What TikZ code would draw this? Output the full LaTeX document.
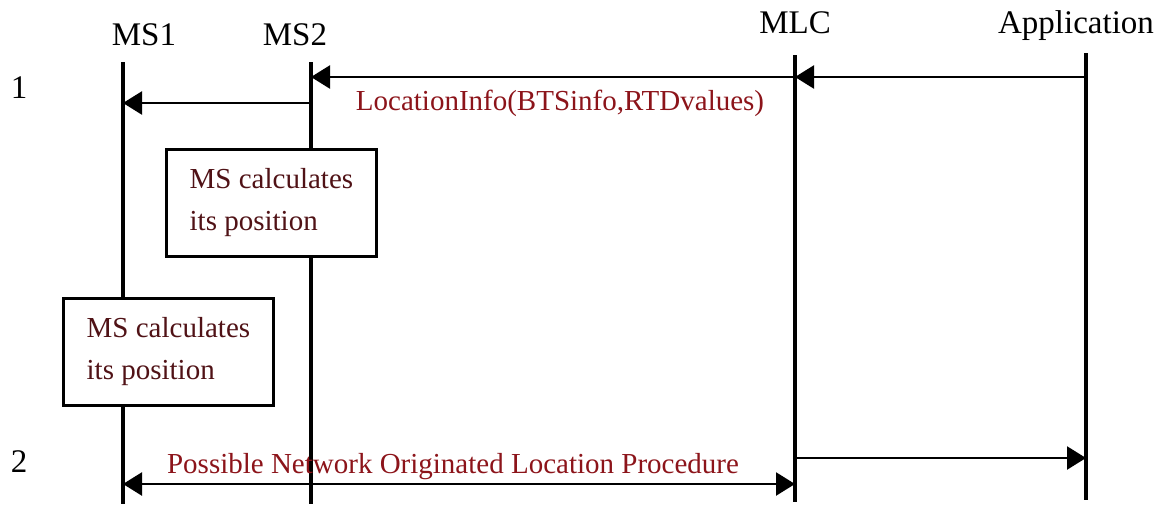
\documentclass[tikz,border=0pt]{standalone}
\usepackage{fontspec}
\setmainfont{Liberation Serif}
\usetikzlibrary{arrows.meta, positioning}

\definecolor{msgred}{RGB}{140,20,26}
\definecolor{boxred}{RGB}{80,18,22}

\tikzset{
  lifeline/.style={line width=1.6pt},
  msg/.style={line width=1.2pt, -{Triangle[length=9.5pt,width=11.5pt]}},
  twoway/.style={line width=1.2pt, {Triangle[length=9.5pt,width=11.5pt]}-{Triangle[length=9.5pt,width=11.5pt]}},
  entity/.style={anchor=base, inner sep=0pt, font=\fontsize{16.5}{20}\selectfont},
  msglabel/.style={anchor=base, inner sep=0pt, text=msgred, font=\fontsize{14.5}{20}\selectfont},
  calcbox/.style={draw, fill=white, line width=1.4pt, anchor=north west,
    minimum width=105pt, minimum height=53.5pt,
    align=left, text=boxred, font=\fontsize{14.5}{21}\selectfont}
}

\begin{document}
\begin{tikzpicture}[x=0.5pt, y=-0.5pt]
  \useasboundingbox (0,0) rectangle (1163,504);

  % Entities
  \node[entity] (ms1) at (144,45) {MS1};
  \node[entity] (ms2) at (295,45) {MS2};
  \node[entity] (mlc) at (795,33) {MLC};
  \node[entity] (app) at (1076,33) {Application};

  % Step numbers
  \node[entity] (step1) at (19,98) {1};
  \node[entity] (step2) at (19,472) {2};

  % Lifelines
  \coordinate (ms1top) at (123,62);   \coordinate (ms1bot) at (123,504);
  \coordinate (ms2top) at (311,62);   \coordinate (ms2bot) at (311,504);
  \coordinate (mlctop) at (795,55);   \coordinate (mlcbot) at (795,502);
  \coordinate (apptop) at (1086,53);  \coordinate (appbot) at (1086,500);
  \draw[lifeline] (ms1top) -- (ms1bot);
  \draw[lifeline] (ms2top) -- (ms2bot);
  \draw[lifeline] (mlctop) -- (mlcbot);
  \draw[lifeline] (apptop) -- (appbot);

  % Step 1
  \coordinate (app1) at (1086,77);
  \coordinate (mlc1) at (795,77);
  \coordinate (ms21) at (311,77);
  \coordinate (ms2b) at (311,103);
  \coordinate (ms11) at (123,103);
  \draw[msg] (app1) -- (mlc1);
  \draw[msg] (mlc1) -- (ms21);
  \draw[msg] (ms2b) -- (ms11);
  \node[msglabel] (locinfo) at (560,110) {LocationInfo(BTSinfo,RTDvalues)};

  % Position calculation
  \node[calcbox] (calc2) at (165,148) {MS calculates\\its position};
  \node[calcbox] (calc1) at (62,297) {MS calculates\\its position};

  % Step 2
  \coordinate (mlc2) at (795,458);
  \coordinate (app2) at (1086,458);
  \coordinate (ms12) at (123,484);
  \coordinate (mlc3) at (795,484);
  \draw[msg] (mlc2) -- (app2);
  \draw[twoway] (ms12) -- (mlc3);
  \node[msglabel] (netproc) at (453,473) {Possible Network Originated Location Procedure};
\end{tikzpicture}
\end{document}
